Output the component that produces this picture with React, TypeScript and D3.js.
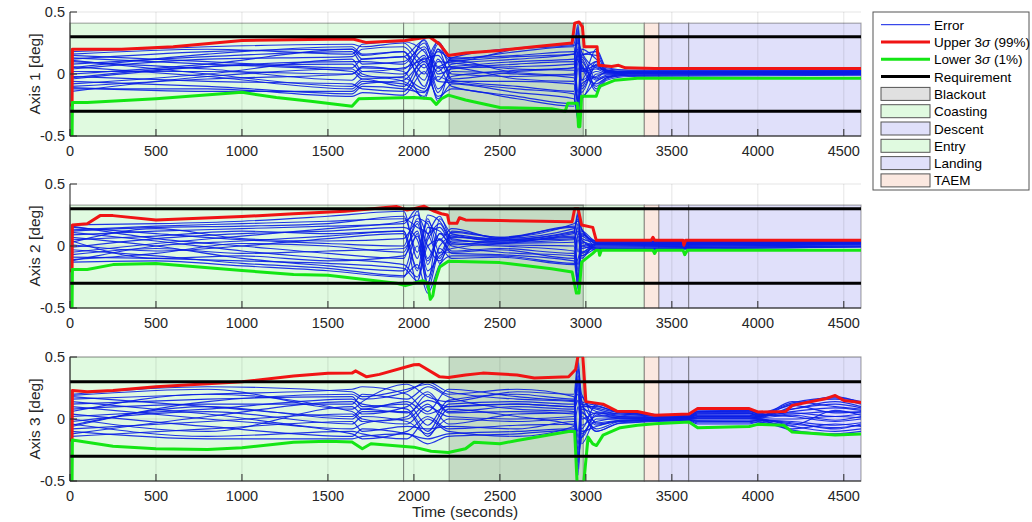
import React from "react";
import * as d3 from "d3";

// ---- axis / tick data ----
const tMax = 4600;
const xTicks = [0, 500, 1000, 1500, 2000, 2500, 3000, 3500, 4000, 4500];
const yTicks = [-0.5, 0, 0.5];
const requirement = [0.3, -0.3];

// ---- mission phases (seconds) ----
const phaseNames = ["Coasting", "Entry", "Blackout", "TAEM", "Descent", "Landing"];
const phaseStart = [0, 1940, 2205, 3340, 3425, 3598];
const phaseEnd = [1940, 3340, 2985, 3425, 3598, 4600];
const phaseFill: Record<string, string> = {
  Coasting: "#e0fae0",
  Entry: "#e0fae0",
  Blackout: "rgba(0,0,0,0.12)",
  TAEM: "#fbe8e0",
  Descent: "#e0e0fa",
  Landing: "#e0e0fa",
};
const legendPhases = ["Blackout", "Coasting", "Descent", "Entry", "Landing", "TAEM"];
const legendPhaseFill: Record<string, string> = {
  Blackout: "#e0e0e0",
  Coasting: "#e0fae0",
  Descent: "#e0e0fa",
  Entry: "#e0fae0",
  Landing: "#e0e0fa",
  TAEM: "#fbe8e0",
};

// ---- Axis 1 ----
const knots1 = [10, 800, 1640, 1700, 1940, 2060, 2140, 2220, 2600, 2930, 2955, 2975, 3060, 3120, 3250, 4600];
const errors1 = [
  [0.18, 0.22, 0.24, 0.22, 0.25, 0.10, 0.26, 0.12, 0.18, 0.22, -0.30, 0.15, 0.18, 0.04, 0.03, 0.03],
  [0.15, 0.10, 0.05, 0.12, 0.14, 0.27, -0.05, 0.08, 0.12, 0.16, 0.38, -0.10, 0.10, 0.02, 0.02, 0.02],
  [0.12, 0.18, 0.20, 0.15, 0.18, -0.10, 0.20, 0.10, 0.20, 0.23, 0.25, 0.18, 0.05, 0.03, 0.01, 0.015],
  [0.10, 0.04, -0.05, 0.02, 0.00, 0.15, -0.15, 0.02, 0.00, -0.03, -0.20, 0.05, -0.05, -0.02, 0.00, 0.01],
  [0.08, 0.14, 0.18, 0.08, 0.10, 0.22, 0.05, 0.06, 0.10, 0.12, 0.30, -0.15, 0.08, 0.01, 0.02, 0.02],
  [0.06, -0.02, -0.12, -0.06, -0.08, -0.18, 0.12, -0.05, -0.10, -0.14, 0.10, 0.10, -0.10, -0.03, 0.00, 0.00],
  [0.04, 0.12, 0.14, 0.20, 0.22, 0.05, 0.18, 0.13, 0.15, 0.18, -0.25, 0.20, 0.12, 0.03, 0.02, 0.025],
  [0.02, 0.02, 0.00, 0.05, 0.04, 0.20, -0.12, -0.02, 0.03, 0.05, 0.18, -0.05, 0.02, 0.00, 0.01, 0.01],
  [0.00, 0.08, 0.20, 0.12, 0.14, -0.05, 0.24, 0.05, 0.06, 0.08, 0.35, 0.08, -0.03, 0.02, 0.01, 0.015],
  [-0.02, -0.06, -0.08, -0.12, -0.14, 0.08, -0.20, -0.08, -0.15, -0.20, -0.35, 0.12, -0.12, -0.04, -0.01, 0.00],
  [-0.04, 0.06, 0.10, 0.10, 0.08, 0.25, 0.00, 0.04, 0.08, 0.10, -0.15, 0.16, 0.15, 0.03, 0.02, 0.02],
  [-0.06, -0.10, -0.16, -0.10, -0.12, -0.15, 0.05, -0.10, -0.18, -0.24, 0.05, -0.18, -0.06, -0.02, -0.01, 0.00],
  [-0.08, 0.00, 0.12, 0.02, 0.05, 0.12, 0.15, 0.00, -0.02, 0.00, 0.28, 0.02, 0.04, 0.01, 0.01, 0.01],
  [-0.10, -0.04, 0.00, 0.06, 0.02, -0.20, 0.10, 0.09, 0.04, 0.03, -0.28, -0.08, -0.02, 0.01, 0.005, 0.01],
  [-0.12, -0.12, -0.18, -0.15, -0.17, 0.02, -0.18, -0.12, -0.20, -0.26, 0.22, 0.06, -0.08, -0.03, -0.01, -0.005],
  [-0.14, -0.02, 0.04, -0.02, -0.03, -0.12, 0.20, -0.04, 0.02, 0.05, 0.12, -0.12, 0.06, 0.02, 0.01, 0.01],
  [0.16, 0.20, 0.16, 0.24, 0.26, 0.18, 0.02, 0.13, 0.21, 0.24, 0.40, -0.05, 0.20, 0.05, 0.03, 0.03],
  [-0.11, -0.14, -0.14, -0.08, -0.05, 0.10, -0.06, -0.07, -0.12, -0.16, -0.38, 0.14, -0.04, -0.01, 0.00, 0.005],
  [0.05, 0.16, 0.22, 0.16, 0.18, 0.00, 0.26, 0.11, 0.14, 0.16, 0.20, 0.03, 0.10, 0.03, 0.015, 0.02],
  [-0.03, 0.06, 0.08, 0.00, -0.06, -0.14, -0.02, -0.06, -0.06, -0.08, -0.22, 0.06, -0.14, -0.05, -0.02, -0.01],
  [0.11, 0.00, -0.10, -0.04, -0.10, 0.13, -0.22, 0.05, -0.04, -0.06, 0.18, -0.20, 0.00, 0.00, 0.005, 0.01],
  [0.13, 0.08, 0.02, -0.04, -0.02, 0.28, 0.06, 0.11, 0.01, -0.01, 0.15, 0.02, 0.07, 0.02, 0.02, 0.02],
];
const upper1: [number, number][] = [
  [0, -0.25], [12, -0.25], [14, 0.2], [300, 0.2], [600, 0.22], [1000, 0.27], [1500, 0.28], [1650, 0.28],
  [1720, 0.255], [1950, 0.27], [2090, 0.3], [2150, 0.24], [2200, 0.15], [2300, 0.17], [2500, 0.19],
  [2700, 0.22], [2920, 0.25], [2935, 0.41], [2960, 0.42], [2980, 0.38], [2990, 0.22], [3065, 0.22],
  [3075, 0.07], [3150, 0.06], [3190, 0.07], [3230, 0.05], [3400, 0.045], [4600, 0.045],
];
const lower1: [number, number][] = [
  [0, -0.5], [12, -0.5], [14, -0.23], [100, -0.23], [500, -0.2], [1000, -0.148], [1200, -0.19],
  [1400, -0.22], [1640, -0.26], [1680, -0.2], [2000, -0.19], [2100, -0.2], [2130, -0.245], [2160, -0.2],
  [2200, -0.17], [2300, -0.21], [2500, -0.27], [2800, -0.28], [2880, -0.3], [2895, -0.235], [2950, -0.235],
  [2957, -0.425], [2965, -0.425], [2975, -0.18], [3060, -0.18], [3080, -0.1], [3170, -0.05], [3300, -0.035],
  [4600, -0.035],
];

// ---- Axis 2 ----
const knots2 = [10, 500, 1000, 1500, 1940, 2020, 2080, 2150, 2220, 2500, 2930, 2955, 2975, 3060, 4600];
const errors2 = [
  [0.17, 0.18, 0.20, 0.24, 0.28, -0.10, 0.20, 0.05, 0.14, 0.06, 0.16, -0.30, 0.12, 0.04, 0.04],
  [0.15, 0.10, 0.05, 0.02, 0.00, 0.28, -0.30, 0.22, 0.10, 0.04, 0.10, 0.25, -0.05, 0.02, 0.03],
  [0.13, 0.16, 0.18, 0.20, 0.22, 0.15, 0.10, -0.10, 0.12, 0.07, 0.18, 0.20, 0.14, 0.035, 0.035],
  [0.11, 0.04, -0.04, -0.10, -0.15, -0.25, 0.05, 0.15, 0.02, 0.00, -0.04, -0.35, 0.08, 0.00, 0.02],
  [0.09, 0.12, 0.14, 0.16, 0.18, 0.30, -0.15, 0.10, 0.08, 0.05, 0.12, 0.28, -0.10, 0.03, 0.03],
  [0.07, 0.00, -0.10, -0.16, -0.20, 0.10, -0.35, -0.05, -0.05, -0.03, -0.10, 0.10, 0.05, -0.01, 0.01],
  [0.05, 0.08, 0.12, 0.10, 0.12, -0.20, 0.25, 0.20, 0.06, 0.02, 0.08, -0.20, 0.10, 0.02, 0.025],
  [0.03, 0.14, 0.06, 0.04, 0.06, 0.20, 0.00, -0.12, 0.04, 0.03, 0.05, 0.15, -0.08, 0.01, 0.02],
  [0.01, -0.04, 0.00, 0.06, 0.10, -0.30, 0.15, 0.12, 0.00, -0.05, -0.08, -0.25, 0.02, -0.02, 0.00],
  [-0.01, 0.06, 0.10, 0.12, 0.15, 0.05, -0.25, 0.00, 0.07, 0.06, 0.14, 0.22, 0.06, 0.03, 0.035],
  [-0.03, -0.08, -0.14, -0.18, -0.24, -0.15, -0.38, -0.15, -0.08, -0.08, -0.14, 0.05, -0.08, -0.025, -0.01],
  [-0.05, 0.02, 0.08, 0.14, 0.20, 0.25, 0.10, 0.18, 0.03, 0.01, 0.00, -0.15, 0.03, 0.01, 0.02],
  [-0.07, -0.02, -0.06, -0.04, -0.02, 0.12, -0.20, -0.08, -0.02, 0.02, 0.03, 0.18, -0.05, 0.00, 0.015],
  [-0.09, -0.10, -0.12, -0.14, -0.18, -0.28, 0.00, 0.05, -0.06, -0.07, -0.12, -0.32, 0.04, -0.02, 0.00],
  [-0.11, -0.06, 0.02, 0.00, -0.05, 0.18, -0.10, 0.10, 0.01, 0.04, 0.06, 0.12, -0.02, 0.01, 0.02],
  [-0.13, -0.12, -0.16, -0.20, -0.25, 0.00, -0.30, -0.02, -0.10, -0.09, -0.15, -0.10, 0.00, -0.03, -0.005],
  [0.16, 0.06, 0.00, -0.06, -0.10, 0.22, 0.18, -0.14, 0.09, 0.05, 0.11, 0.26, 0.13, 0.025, 0.03],
  [-0.12, 0.00, 0.04, 0.08, 0.12, -0.18, 0.08, 0.24, 0.05, 0.03, 0.07, -0.28, 0.00, 0.015, 0.025],
  [0.04, -0.10, -0.08, -0.12, -0.08, 0.08, -0.12, 0.06, -0.04, -0.02, -0.06, 0.08, -0.06, -0.01, 0.01],
  [0.12, 0.15, 0.16, 0.18, 0.24, -0.05, 0.22, -0.06, 0.11, 0.07, 0.15, -0.05, 0.09, 0.04, 0.04],
];
const upper2: [number, number][] = [
  [0, -0.2], [12, -0.2], [14, 0.17], [100, 0.18], [175, 0.245], [250, 0.245], [500, 0.21], [1000, 0.237],
  [1300, 0.26], [1600, 0.28], [1900, 0.318], [1960, 0.29], [2000, 0.3], [2060, 0.32], [2120, 0.28],
  [2160, 0.26], [2195, 0.25], [2205, 0.183], [2250, 0.183], [2265, 0.228], [2300, 0.21], [2500, 0.205],
  [2920, 0.196], [2935, 0.3], [2955, 0.3], [2975, 0.17], [3040, 0.15], [3060, 0.047], [3380, 0.047],
  [3390, 0.07], [3400, 0.047], [3565, 0.047], [3570, 0.006], [3580, 0.047], [4600, 0.047],
];
const lower2: [number, number][] = [
  [0, -0.5], [12, -0.5], [14, -0.19], [100, -0.19], [250, -0.15], [500, -0.142], [1000, -0.197],
  [1300, -0.23], [1500, -0.235], [1900, -0.3], [1950, -0.32], [2000, -0.3], [2050, -0.28], [2080, -0.3],
  [2095, -0.43], [2110, -0.4], [2125, -0.28], [2150, -0.17], [2200, -0.123], [2500, -0.134],
  [2800, -0.183], [2920, -0.21], [2945, -0.38], [2960, -0.38], [2975, -0.13], [3040, -0.06],
  [3060, -0.034], [3075, -0.034], [3080, -0.075], [3090, -0.034], [3390, -0.034], [3400, -0.06],
  [3410, -0.034], [3565, -0.034], [3575, -0.07], [3590, -0.034], [4600, -0.035],
];

// ---- Axis 3 ----
const knots3 = [10, 800, 1640, 1700, 1960, 2080, 2200, 2600, 2930, 2955, 2975, 3060, 3200, 3600, 3650, 3950, 4000, 4200, 4450, 4600];
const errors3 = [
  [0.20, 0.26, 0.22, 0.18, 0.24, 0.28, 0.20, 0.24, 0.18, -0.30, 0.10, 0.10, 0.05, 0.02, 0.06, 0.06, 0.04, 0.12, 0.16, 0.12],
  [0.18, 0.10, 0.02, 0.08, 0.05, 0.15, 0.10, 0.12, 0.10, 0.45, -0.15, 0.05, 0.03, 0.01, 0.04, 0.04, 0.03, 0.08, 0.12, 0.09],
  [0.16, 0.20, 0.24, 0.26, 0.20, 0.06, 0.24, 0.18, 0.15, 0.30, 0.12, 0.08, 0.04, 0.02, 0.05, 0.05, 0.03, 0.05, 0.02, 0.04],
  [0.14, 0.04, -0.08, -0.04, 0.02, 0.20, 0.05, 0.06, 0.04, -0.40, 0.05, -0.05, -0.01, 0.00, 0.02, 0.02, 0.01, 0.10, 0.18, 0.13],
  [0.12, 0.16, 0.18, 0.10, 0.12, -0.05, 0.15, 0.20, 0.16, 0.20, -0.08, 0.12, 0.06, 0.03, 0.06, 0.065, 0.04, 0.02, -0.02, 0.00],
  [0.10, 0.00, -0.12, -0.16, -0.10, 0.02, -0.08, -0.05, -0.04, 0.35, 0.15, -0.10, -0.03, -0.01, -0.03, -0.03, -0.02, -0.06, -0.10, -0.08],
  [0.08, 0.12, 0.12, 0.20, 0.16, 0.26, 0.18, 0.08, 0.06, -0.20, 0.08, 0.04, 0.02, 0.01, 0.03, 0.03, 0.02, 0.06, 0.09, 0.07],
  [0.06, 0.20, 0.06, 0.00, -0.04, 0.10, 0.02, 0.00, 0.02, 0.28, -0.20, 0.00, 0.00, 0.005, 0.01, 0.01, 0.00, -0.02, -0.05, -0.03],
  [0.04, -0.06, -0.14, -0.08, -0.12, -0.16, -0.12, -0.10, -0.08, -0.35, 0.02, -0.08, -0.02, -0.01, -0.02, -0.02, -0.01, -0.04, -0.07, -0.05],
  [0.02, 0.08, 0.16, 0.12, 0.08, -0.10, 0.12, 0.14, 0.12, 0.40, 0.20, 0.06, 0.04, 0.015, 0.04, 0.045, 0.025, 0.04, 0.06, 0.05],
  [0.00, -0.10, 0.10, 0.04, 0.10, 0.22, 0.06, 0.10, 0.08, 0.15, -0.05, 0.02, 0.01, 0.01, 0.02, 0.02, 0.015, 0.14, 0.10, 0.08],
  [-0.02, 0.06, -0.04, 0.02, -0.02, -0.12, 0.00, -0.02, 0.00, -0.25, 0.10, -0.03, -0.01, 0.00, 0.00, 0.00, 0.00, 0.00, 0.02, 0.01],
  [-0.04, -0.14, -0.10, -0.12, -0.16, 0.00, -0.10, -0.14, -0.06, 0.10, -0.10, -0.06, -0.02, -0.005, -0.01, -0.01, -0.005, -0.08, -0.04, -0.06],
  [-0.06, 0.14, 0.20, 0.16, 0.22, 0.30, 0.22, 0.16, 0.14, -0.15, 0.12, 0.09, 0.05, 0.02, 0.05, 0.05, 0.035, 0.08, 0.14, 0.10],
  [-0.08, -0.02, 0.04, -0.02, 0.00, 0.12, -0.04, 0.04, 0.05, 0.25, -0.12, 0.03, 0.01, 0.005, 0.015, 0.015, 0.01, 0.03, -0.01, 0.02],
  [-0.10, -0.16, -0.16, -0.14, -0.12, -0.20, -0.14, -0.12, -0.09, -0.45, 0.06, -0.10, -0.035, -0.015, -0.04, -0.04, -0.025, -0.09, -0.12, -0.10],
  [-0.12, 0.02, 0.14, 0.08, 0.14, 0.04, 0.10, 0.12, 0.10, 0.32, 0.00, 0.05, 0.02, 0.01, 0.03, 0.03, 0.02, 0.11, 0.05, 0.06],
  [-0.14, -0.08, -0.02, -0.10, -0.06, -0.08, -0.06, -0.08, -0.02, -0.10, 0.18, -0.04, -0.015, -0.005, -0.015, -0.02, -0.01, -0.03, -0.08, -0.04],
  [0.19, 0.24, 0.08, 0.14, 0.28, 0.18, 0.14, 0.22, 0.20, 0.48, 0.14, 0.11, 0.055, 0.025, 0.065, 0.07, 0.045, 0.13, 0.17, 0.14],
  [-0.05, 0.10, 0.00, 0.06, 0.06, -0.14, 0.08, 0.02, -0.05, -0.30, -0.15, -0.02, 0.005, 0.005, 0.005, 0.005, 0.005, -0.05, 0.07, 0.03],
];
const upper3: [number, number][] = [
  [0, -0.17], [12, -0.17], [14, 0.23], [100, 0.22], [250, 0.23], [500, 0.26], [1000, 0.3], [1300, 0.347],
  [1500, 0.369], [1640, 0.37], [1660, 0.388], [1725, 0.34], [1800, 0.36], [2000, 0.437], [2030, 0.44],
  [2150, 0.34], [2200, 0.335], [2300, 0.355], [2400, 0.37], [2600, 0.355], [2700, 0.33], [2900, 0.34],
  [2940, 0.4], [2960, 0.55], [2980, 0.55], [3000, 0.14], [3100, 0.12], [3180, 0.063], [3300, 0.06],
  [3400, 0.03], [3600, 0.04], [3650, 0.084], [3950, 0.084], [4000, 0.057], [4160, 0.06], [4200, 0.11],
  [4400, 0.166], [4450, 0.19], [4500, 0.15], [4600, 0.133],
];
const lower3: [number, number][] = [
  [0, -0.5], [12, -0.5], [14, -0.17], [250, -0.22], [500, -0.24], [800, -0.245], [1000, -0.232],
  [1300, -0.187], [1500, -0.18], [1640, -0.185], [1700, -0.24], [1750, -0.2], [2000, -0.227],
  [2100, -0.26], [2200, -0.27], [2300, -0.24], [2350, -0.187], [2500, -0.2], [2600, -0.173], [2900, -0.1],
  [2935, -0.1], [2950, -0.55], [2985, -0.55], [3013, -0.146], [3040, -0.2], [3062, -0.214], [3100, -0.13],
  [3200, -0.07], [3300, -0.05], [3400, -0.038], [3600, -0.024], [3650, -0.07], [3950, -0.06],
  [4000, -0.043], [4150, -0.05], [4200, -0.105], [4450, -0.13], [4600, -0.12],
];

const panelLabels = ["Axis 1 [deg]", "Axis 2 [deg]", "Axis 3 [deg]"];
const panelTops = [12, 184, 357];
const patchTops = [0.41, 0.33, 0.5];

const panels = [
  { knots: knots1, runs: errors1, upper: upper1, lower: lower1 },
  { knots: knots2, runs: errors2, upper: upper2, lower: lower2 },
  { knots: knots3, runs: errors3, upper: upper3, lower: lower3 },
];

const FONT = "'Liberation Sans', Arial, Helvetica, sans-serif";
const AXIS_COLOR = "#262626";
const BLUE = "#0a1ee6";
const RED = "#f01414";
const GREEN = "#14e614";
const X0 = 70;
const X1 = 861;
const PH = 124;

function Panel({ idx }: { idx: number }) {
  const p = panels[idx];
  const top = panelTops[idx];
  const x = d3.scaleLinear().domain([0, tMax]).range([X0, X1]);
  const y = d3.scaleLinear().domain([-0.5, 0.5]).range([top + PH, top]);
  const env = d3.line<[number, number]>().x((d) => x(d[0])).y((d) => y(d[1]));
  const run = d3
    .line<number>()
    .x((_, i) => x(p.knots[i]))
    .y((d) => y(d))
    .curve(d3.curveMonotoneX);
  const clipId = `clip${idx}`;
  return (
    <g>
      <defs>
        <clipPath id={clipId}>
          <rect x={X0} y={top} width={X1 - X0} height={PH} />
        </clipPath>
      </defs>
      {phaseNames.map((name, i) => (
        <rect
          key={name}
          x={x(phaseStart[i])}
          y={y(patchTops[idx])}
          width={x(phaseEnd[i]) - x(phaseStart[i])}
          height={y(-0.5) - y(patchTops[idx])}
          fill={phaseFill[name]}
          stroke="rgba(0,0,0,0.32)"
          strokeWidth={1.2}
        />
      ))}
      {xTicks.map((t) => (
        <line key={t} x1={x(t)} x2={x(t)} y1={top} y2={top + PH} stroke="rgba(0,0,0,0.1)" strokeWidth={1} />
      ))}
      {yTicks.map((v) => (
        <line key={v} x1={X0} x2={X1} y1={y(v)} y2={y(v)} stroke="rgba(0,0,0,0.1)" strokeWidth={1} />
      ))}
      <g clipPath={`url(#${clipId})`}>
        {p.runs.map((r, i) => (
          <path key={i} d={run(r) || ""} fill="none" stroke={BLUE} strokeWidth={1.15} strokeOpacity={0.9} />
        ))}
        <path d={env(p.upper) || ""} fill="none" stroke={RED} strokeWidth={3} strokeLinejoin="round" />
        <path d={env(p.lower) || ""} fill="none" stroke={GREEN} strokeWidth={3} strokeLinejoin="round" />
        {requirement.map((v) => (
          <line key={v} x1={X0} x2={X1} y1={y(v)} y2={y(v)} stroke="#000" strokeWidth={3} />
        ))}
      </g>
      <line x1={X0} x2={X0} y1={top} y2={top + PH} stroke={AXIS_COLOR} strokeWidth={1} />
      <line x1={X0} x2={X1} y1={top + PH} y2={top + PH} stroke={AXIS_COLOR} strokeWidth={1} />
      {xTicks.map((t) => (
        <g key={t}>
          <line x1={x(t)} x2={x(t)} y1={top + PH} y2={top + PH - 7} stroke={AXIS_COLOR} strokeWidth={1} />
          <text x={x(t)} y={top + PH + 20} textAnchor="middle" fontSize={14.5} fill={AXIS_COLOR} fontFamily={FONT}>
            {t}
          </text>
        </g>
      ))}
      {yTicks.map((v) => (
        <g key={v}>
          <line x1={X0} x2={X0 + 7} y1={y(v)} y2={y(v)} stroke={AXIS_COLOR} strokeWidth={1} />
          <text x={X0 - 5} y={y(v) + 5} textAnchor="end" fontSize={14.5} fill={AXIS_COLOR} fontFamily={FONT}>
            {v}
          </text>
        </g>
      ))}
      <text
        transform={`translate(40,${top + PH / 2}) rotate(-90)`}
        textAnchor="middle"
        fontSize={15.5}
        fill={AXIS_COLOR}
        fontFamily={FONT}
      >
        {panelLabels[idx]}
      </text>
    </g>
  );
}

function Legend() {
  const lx = 873;
  const ly = 12;
  const rowH = 17.3;
  const first = 24.7;
  const lineItems = [
    { label: "Error", color: BLUE, w: 1 },
    { label: "Upper", color: RED, w: 3 },
    { label: "Lower", color: GREEN, w: 3 },
    { label: "Requirement", color: "#000", w: 3 },
  ];
  const text = (i: number, children: React.ReactNode) => (
    <text x={934} y={first + i * rowH + 5} fontSize={13.5} fill="#000" fontFamily={FONT}>
      {children}
    </text>
  );
  return (
    <g>
      <rect x={lx} y={ly} width={156} height={178} fill="#fff" stroke="#555" strokeWidth={1} />
      {lineItems.map((it, i) => (
        <g key={it.label}>
          <line x1={881} x2={930} y1={first + i * rowH} y2={first + i * rowH} stroke={it.color} strokeWidth={it.w} />
          {text(
            i,
            it.label === "Upper" ? (
              <>
                Upper 3<tspan fontStyle="italic">σ</tspan> (99%)
              </>
            ) : it.label === "Lower" ? (
              <>
                Lower 3<tspan fontStyle="italic">σ</tspan> (1%)
              </>
            ) : (
              it.label
            )
          )}
        </g>
      ))}
      {legendPhases.map((name, j) => {
        const i = j + 4;
        const cy = first + i * rowH;
        return (
          <g key={name}>
            <rect x={881} y={cy - 6.5} width={49} height={13} fill={legendPhaseFill[name]} stroke="#555" strokeWidth={1} />
            {text(i, name)}
          </g>
        );
      })}
    </g>
  );
}

export default function App() {
  return (
    <svg
      width={1032}
      height={522}
      style={{ position: "absolute", left: 0, top: 0, background: "#fff" }}
      fontFamily={FONT}
    >
      <rect width={1032} height={522} fill="#fff" />
      {panels.map((_, i) => (
        <Panel key={i} idx={i} />
      ))}
      <text x={465} y={517} textAnchor="middle" fontSize={15.5} fill={AXIS_COLOR} fontFamily={FONT}>
        Time (seconds)
      </text>
      <Legend />
    </svg>
  );
}
